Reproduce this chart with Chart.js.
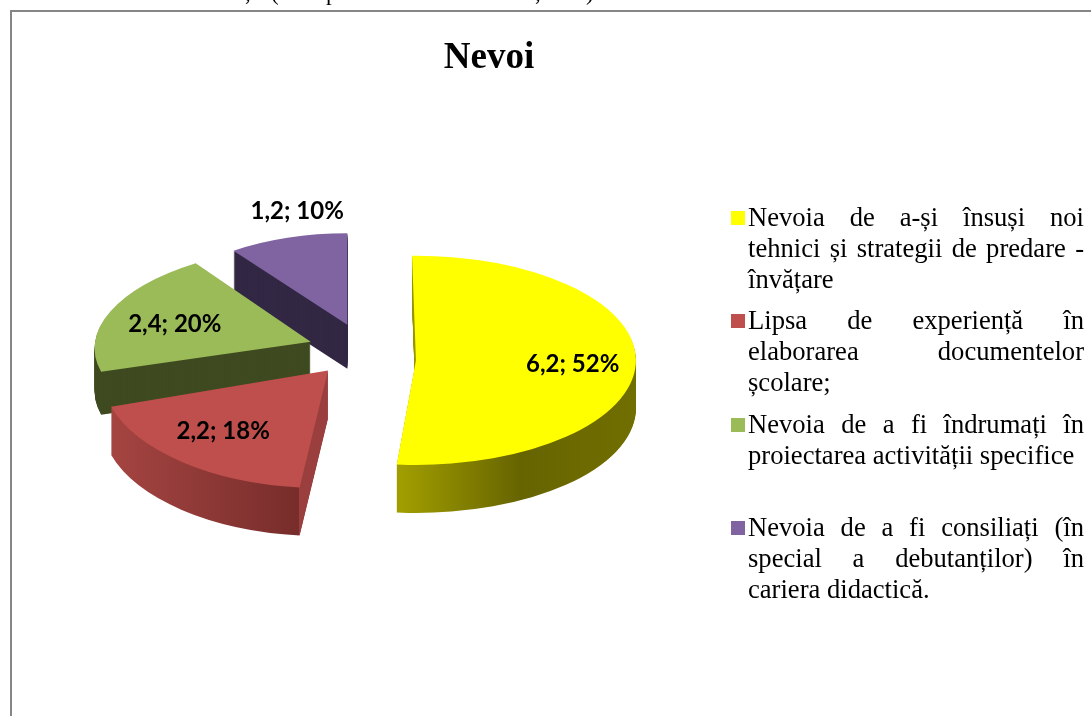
<!DOCTYPE html>
<html>
<head>
<meta charset="utf-8">
<title>Nevoi</title>
<script src="https://cdn.jsdelivr.net/npm/chart.js@4"></script>
<style>
    html, body { margin: 0; padding: 0; background: #fff; width: 1091px; height: 716px; overflow: hidden; }
    #frame { position: absolute; left: 10px; top: 10px; width: 1200px; height: 900px; border: 2px solid #868686; box-sizing: border-box; }
    #chartBox { position: absolute; left: 0; top: 0; width: 978px; height: 716px; }
    #legendBox { position: absolute; left: 731px; top: 0; width: 353px; font: 26.6px/31px "Liberation Serif", serif; color: #000; }
    .legendItem { position: absolute; left: 0; width: 353px; }
    .legendItem i { position: absolute; left: 0; top: 9px; width: 14px; height: 14px; }
    .legendItem span { display: block; margin-left: 17px; text-align: justify; }
    .pageText { position: absolute; font: 23px "Liberation Serif", serif; color: #000; }
</style>
</head>
<body>
<div id="frame"></div>
<div id="chartBox"><canvas id="nevoiChart"></canvas></div>
<div id="legendBox"></div>
<script>
    'use strict';

    const categories = [
        'Nevoia de a-și însuși noi tehnici și strategii de predare - învățare',
        'Lipsa de experiență în elaborarea documentelor școlare;',
        'Nevoia de a fi îndrumați în proiectarea activității specifice',
        'Nevoia de a fi consiliați (în special a debutanților) în cariera didactică.'
    ];
    const values = [6.2, 2.2, 2.4, 1.2];
    const percents = [52, 18, 20, 10];
    const topColors = ['#FFFF00', '#BE4F4C', '#9BBB59', '#8064A2'];

    // the line of text above the chart is cut by the page edge, only these bits show
    const cutText = [',', '(', 'p', ',', ')'];
    const cutTextLeft = [245, 271, 326, 535, 586];

    // 3d look, all done around the arcs that Chart.js computes
    const pieCenter = { x: 362, y: 350 };
    const squash = 0.49;
    const explode = 54;
    const depth = [48, 48, 43, 44];
    const scaleX = [1, 1.03, 0.98, 0.88];
    const scaleY = [0.97, 1.09, 0.9, 0.85];
    const shearX = [0, -0.04, -0.15, 0];
    const turn = [-1, 0, 0, 0];
    const nudgeX = [0, 0, 0, 2];
    const nudgeY = [9, 0, 0, 0];
    const drawOrder = [3, 2, 1, 0];
    const labelReach = [157, 165, 146, 240];
    const labelNudge = [[0, 0], [-1, -2], [3, 5], [24, -2]];
    const legendTops = [202, 305, 409, 512];

    let wallColor = function (ctx, arc, i) {
        let left = arc.x - 220, right = arc.x + 220;
        let g = ctx.createLinearGradient(left, 0, right, 0);
        if (i === 0) {
            g.addColorStop(0, '#A09D00');
            g.addColorStop(0.46, '#A09D00');
            g.addColorStop(0.73, '#666400');
            g.addColorStop(1, '#716F00');
            return g;
        }
        if (i === 1) {
            g.addColorStop(0, '#A84643');
            g.addColorStop(0.446, '#772D2B');
            g.addColorStop(0.447, '#9A3F3D');
            g.addColorStop(1, '#9A3F3D');
            return g;
        }
        return i === 2 ? '#3F4A21' : '#322844';
    };

    const pie3d = {
        id: 'pie3d',
        beforeDatasetsDraw(chart) {
            let ctx = chart.ctx;
            let arcs = chart.getDatasetMeta(0).data;

            drawOrder.forEach(function (i) {
                let arc = arcs[i];
                let base = arc.options;
                let mid = (arc.startAngle + arc.endAngle) / 2;
                let ox = pieCenter.x + Math.cos(mid) * explode + nudgeX[i];
                let oy = pieCenter.y + Math.sin(mid) * explode * squash + nudgeY[i];

                for (let d = depth[i]; d >= 0; d--) {
                    arc.options = Object.assign({}, base, {
                        backgroundColor: d === 0 ? topColors[i] : wallColor(ctx, arc, i)
                    });
                    ctx.save();
                    ctx.translate(ox, oy + d);
                    ctx.transform(1, 0, shearX[i], 1, 0, 0);
                    ctx.scale(scaleX[i], scaleY[i] * squash);
                    ctx.rotate(turn[i] * Math.PI / 180);
                    ctx.translate(-arc.x, -arc.y);
                    arc.draw(ctx);
                    ctx.restore();
                }
                arc.options = base;
            });

            // data labels
            ctx.save();
            ctx.font = 'bold 24px Lato, sans-serif';
            ctx.fillStyle = '#000';
            ctx.textAlign = 'center';
            ctx.textBaseline = 'middle';
            arcs.forEach(function (arc, i) {
                let mid = (arc.startAngle + arc.endAngle) / 2;
                let ox = pieCenter.x + Math.cos(mid) * explode + nudgeX[i];
                let oy = pieCenter.y + Math.sin(mid) * explode * squash + nudgeY[i];
                let text = String(values[i]).replace('.', ',') + '; ' + percents[i] + '%';
                ctx.fillText(text,
                    ox + Math.cos(mid) * labelReach[i] + labelNudge[i][0],
                    oy + Math.sin(mid) * labelReach[i] * squash + labelNudge[i][1]);
            });
            ctx.restore();
            return false;
        }
    };

    let chart = new Chart(document.getElementById('nevoiChart'), {
        type: 'pie',
        data: {
            labels: categories,
            datasets: [{
                data: values,
                backgroundColor: topColors,
                borderWidth: 0
            }]
        },
        options: {
            responsive: true,
            maintainAspectRatio: false,
            animation: false,
            radius: 220,
            plugins: {
                legend: { display: false },
                tooltip: { enabled: false },
                title: {
                    display: true,
                    text: 'Nevoi',
                    color: '#000',
                    font: { family: '"Liberation Serif", serif', size: 37, weight: 'bold' },
                    padding: { top: 36, bottom: 10 }
                }
            }
        },
        plugins: [pie3d]
    });

    // legend is html because the canvas one cannot justify its lines
    let legendBox = document.getElementById('legendBox');
    chart.data.labels.forEach(function (label, i) {
        let item = document.createElement('div');
        item.className = 'legendItem';
        item.style.top = legendTops[i] + 'px';
        let mark = document.createElement('i');
        mark.style.background = topColors[i];
        let text = document.createElement('span');
        text.textContent = label;
        item.appendChild(mark);
        item.appendChild(text);
        legendBox.appendChild(item);
    });

    cutText.forEach(function (t, i) {
        let s = document.createElement('span');
        s.className = 'pageText';
        s.textContent = t;
        s.style.left = cutTextLeft[i] + 'px';
        s.style.top = '-20px';
        document.body.appendChild(s);
    });
</script>
</body>
</html>
